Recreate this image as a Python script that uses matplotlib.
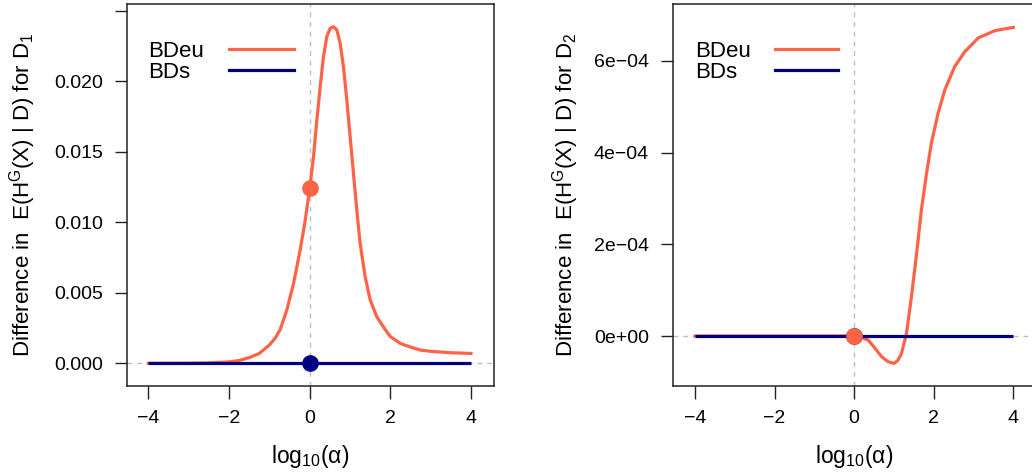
import numpy as np
import matplotlib
matplotlib.use("Agg")
import matplotlib.pyplot as plt
import matplotlib.transforms as mtransforms

plt.rcParams['font.family'] = ['Liberation Sans', 'DejaVu Sans']
plt.rcParams['mathtext.fontset'] = 'custom'
plt.rcParams['mathtext.rm'] = 'Liberation Sans'
plt.rcParams['mathtext.it'] = 'Liberation Sans:italic'

# log10(alpha) grid
x_d1 = [-4, -3, -2.5, -2, -1.75, -1.5, -1.25, -1, -0.85, -0.73, -0.565,
        -0.4, -0.235, -0.11, 0, 0.095, 0.178, 0.26, 0.342, 0.425, 0.508,
        0.59, 0.673, 0.755, 0.837, 0.92, 1.003, 1.085, 1.168, 1.25, 1.375,
        1.5, 1.664, 1.8, 1.91, 2.0, 2.25, 2.5, 2.74, 3.0, 3.49, 4.0]
bdeu_d1 = [0.0, 0.00001, 0.00003, 0.0001, 0.0002, 0.0004, 0.0007, 0.0013,
           0.0018, 0.0024, 0.0038, 0.00567, 0.00804, 0.01016, 0.0124,
           0.01466, 0.01726, 0.0196, 0.02175, 0.02317, 0.02376, 0.02387,
           0.02364, 0.0227, 0.02104, 0.01867, 0.01607, 0.01348, 0.01087,
           0.00851, 0.00614, 0.00449, 0.0033, 0.0027, 0.00224, 0.0019,
           0.0014, 0.00115, 0.00094, 0.00085, 0.00075, 0.0007]

x_d2 = [-4, -2, 0, 0.15, 0.35, 0.5, 0.69, 0.85, 1.005, 1.1, 1.19, 1.316,
        1.44, 1.57, 1.69, 1.82, 1.94, 2.11, 2.28, 2.53, 2.78, 3.12, 3.54, 4.0]
bdeu_d2 = [0, 0, 0, -2e-6, -8.7e-6, -2.4e-5, -4.5e-5, -5.6e-5, -5.96e-5,
           -5.3e-5, -3.8e-5, 5.8e-6, 8.6e-5, 1.8e-4, 2.75e-4, 3.55e-4,
           4.2e-4, 4.86e-4, 5.37e-4, 5.88e-4, 6.2e-4, 6.5e-4, 6.66e-4, 6.73e-4]

x_bds = [-4, 4]
bds = [0, 0]

pt_d1 = 0.0124   # BDeu at alpha = 1, D1
pt_d2 = 0.0      # BDeu at alpha = 1, D2

yticks_d1 = [0, 0.005, 0.010, 0.015, 0.020, 0.025]
ylabels_d1 = ['0.000', '0.005', '0.010', '0.015', '0.020', '']
yticks_d2 = [0, 2e-4, 4e-4, 6e-4]
ylabels_d2 = ['0e+00', '2e\u221204', '4e\u221204', '6e\u221204']
xticks = [-4, -2, 0, 2, 4]
xlabels = ['\u22124', '\u22122', '0', '2', '4']

ORANGE = '#FF6347'
NAVY = '#000080'
GREY = '#BEBEBE'

W, H = 1032, 475
fig = plt.figure(figsize=(W / 100, H / 100), dpi=100)

def px_axes(x0, x1, ytop, ybot):
    return fig.add_axes([x0 / W, 1 - ybot / H, (x1 - x0) / W, (ybot - ytop) / H])

ax1 = px_axes(127, 494, 4, 386)
ax2 = px_axes(672.7, 1035.6, 4, 386)

def panel(ax, x, y, pt, ylim, xlim, yt, yl, sub):
    ax.axvline(0, color=GREY, lw=1, dashes=(3.5, 3.5), zorder=1)
    ax.axhline(0, color=GREY, lw=1, dashes=(3.5, 3.5), zorder=1)
    ax.plot(x, y, color=ORANGE, lw=2.3, zorder=2, solid_joinstyle='round')
    ax.plot(x_bds, bds, color=NAVY, lw=2.3, zorder=3, solid_capstyle='butt')
    ax.plot([0], [0], 'o', color=NAVY, ms=11, zorder=4)
    ax.plot([0], [pt], 'o', color=ORANGE, ms=11, zorder=5)
    ax.set_xlim(*xlim)
    ax.set_ylim(*ylim)
    ax.set_xticks(xticks)
    ax.set_xticklabels(xlabels)
    ax.set_yticks(yt)
    ax.set_yticklabels(yl)
    ax.tick_params(length=9, width=1, pad=8, labelsize=14, colors='#222222',
                   labelcolor='black')
    for s in ax.spines.values():
        s.set_linewidth(1.1)
        s.set_color('#222222')
    # R-style legend, placed at x = -4 in data units
    tr = mtransforms.blended_transform_factory(ax.transData, ax.transAxes)
    ax.text(-4, 0.8605, 'BDeu', transform=tr, fontsize=16, va='baseline', ha='left')
    ax.text(-4, 0.8055, 'BDs', transform=tr, fontsize=16, va='baseline', ha='left')
    ax.plot([-2.0, -0.4], [0.882, 0.882], transform=tr, color=ORANGE, lw=2.3)
    ax.plot([-2.0, -0.4], [0.827, 0.827], transform=tr, color=NAVY, lw=2.3)
    ax.set_xlabel(r'log$_{10}$(α)', fontsize=16.5, va='center')
    ax.set_ylabel('Difference in  E(H$^{\\mathrm{G}}$(X) | D) for D$_{%s}$' % sub,
                  fontsize=16, va='center')

panel(ax1, x_d1, bdeu_d1, pt_d1, (-0.00161, 0.02548), (-4.53, 4.57),
      yticks_d1, ylabels_d1, '1')
panel(ax2, x_d2, bdeu_d2, pt_d2, (-1.09e-4, 7.24e-4), (-4.56, 4.56),
      yticks_d2, ylabels_d2, '2')

# label positions (pixel centres from the reference)
ax1.xaxis.set_label_coords(0.5, (386 - 457) / 382)
ax2.xaxis.set_label_coords(0.5, (386 - 457) / 382)
ax1.yaxis.set_label_coords((23 - 127) / 367, 0.5)
ax2.yaxis.set_label_coords((566 - 672.7) / 362.9, 0.5)

fig.savefig('out.png', dpi=100)
